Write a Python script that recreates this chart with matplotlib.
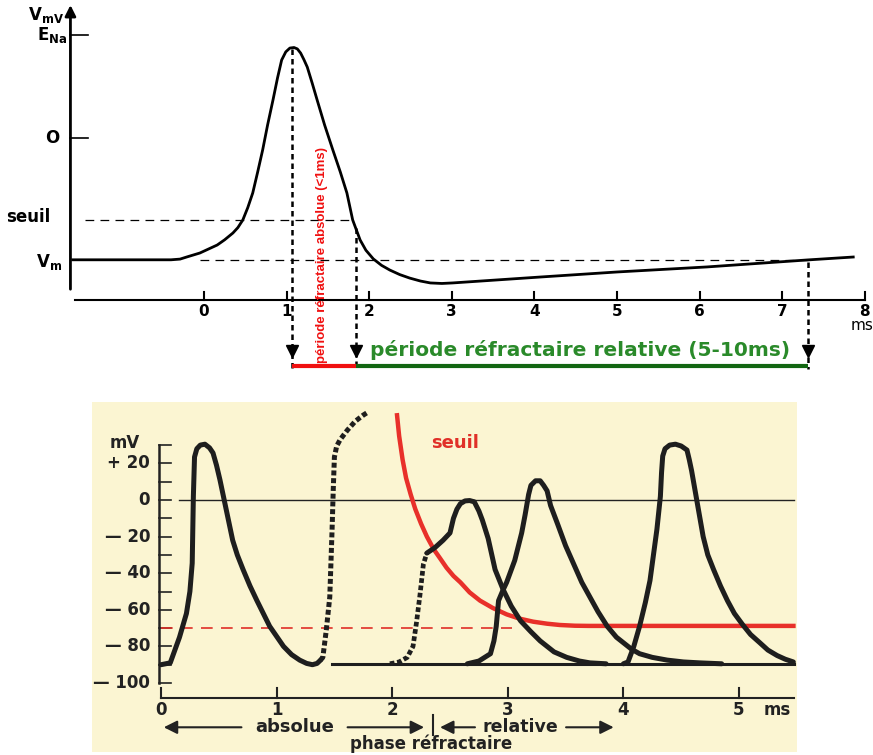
import matplotlib.pyplot as plt
from matplotlib.patches import Rectangle

# ---------- top panel data (t in ms, V in mV, schematic) ----------
top_t = [-1.59, -0.40, -0.29, -0.21, -0.05, 0.16, 0.25, 0.35, 0.41, 0.47, 0.53, 0.59,
         0.65, 0.71, 0.77, 0.835, 0.89, 0.94, 0.99, 1.04, 1.09, 1.13, 1.17, 1.21, 1.25,
         1.31, 1.37, 1.46, 1.56, 1.65, 1.73, 1.80, 1.85, 1.89, 1.96, 2.05, 2.15, 2.25,
         2.37, 2.49, 2.62, 2.74, 2.88, 3.01, 4.07, 5.0, 6.09, 7.30, 7.86]
top_v = [-70, -70, -69.6, -68.4, -66.1, -61.5, -58.5, -54.6, -51.5, -47.1, -40, -31.6,
         -19.5, -6.9, 7.5, 21.8, 34.5, 44.8, 49.5, 51.7, 52.0, 51.2, 48.8, 45.0, 40.8,
         31.5, 21.8, 7.5, -6.9, -19.5, -31.6, -47.1, -53.5, -58.6, -64.5, -69.5, -73.2, -75.9,
         -78.5, -80.5, -82.2, -83.3, -83.6, -83.3, -79.9, -77.0, -74.1, -70.1, -68.4]
top_xticks = [0, 1, 2, 3, 4, 5, 6, 7, 8]
V_ENA, V_SEUIL, V_REPOS = 59.2, -47.1, -70
t_abs_start, t_abs_end, t_rel_end = 1.065, 1.84, 7.31

# ---------- bottom panel data ----------
ap1_t = [0.0, 0.08, 0.16, 0.22, 0.25, 0.27, 0.28, 0.29, 0.31, 0.34, 0.38, 0.42, 0.45,
         0.48, 0.51, 0.57, 0.62, 0.66, 0.71, 0.77, 0.83, 0.94, 1.06, 1.13, 1.20, 1.26,
         1.31, 1.35, 1.38]
ap1_v = [-90, -89, -75, -62, -50, -34.5, 2, 23.5, 28, 30, 30.5, 28.5, 25.7,
         19, 11, -7, -22, -30, -38, -47, -55, -69, -80, -84.5, -87.5, -89.3,
         -90, -89.3, -87.5]
ap1b_t = [1.38, 1.40, 1.43, 1.46, 1.48, 1.49, 1.50, 1.52, 1.55, 1.61, 1.68, 1.75, 1.79]
ap1b_v = [-87.5, -86, -71, -53, -16, 5.5, 23.5, 29.5, 33, 38, 43, 46.4, 48]

base_t = [1.48, 5.48]
base_v = [-89.5, -89.5]

ap2a_t = [1.98, 2.06, 2.13, 2.18, 2.21, 2.24, 2.27, 2.30]
ap2a_v = [-89.5, -88.5, -86, -80, -67, -52, -35, -29]
ap2_t = [2.30, 2.37, 2.44, 2.50, 2.53, 2.56, 2.59, 2.63, 2.67, 2.71, 2.75, 2.78, 2.83,
         2.89, 2.96, 3.03, 3.11, 3.20, 3.28, 3.40, 3.51, 3.62, 3.71, 3.85]
ap2_v = [-29, -26, -22, -18, -10, -5, -2, -0.5, -0.3, -1, -6, -11, -21,
         -38, -49, -58, -66, -72, -77, -83, -86, -88, -89, -89.5]

ap3_t = [2.65, 2.75, 2.85, 2.88, 2.90, 2.92, 2.96, 2.99, 3.06, 3.12, 3.15, 3.18, 3.20,
         3.24, 3.28, 3.31, 3.34, 3.37, 3.43, 3.50, 3.57, 3.64, 3.71, 3.78, 3.86, 3.94,
         4.00, 4.07, 4.14, 4.25, 4.38, 4.52, 4.66, 4.85]
ap3_v = [-89.5, -88, -84, -77, -69, -55, -49, -45, -33, -18, -8, 3, 8,
         10.5, 10.5, 8, 5, -3, -13, -25, -35, -45, -53, -61, -69, -75,
         -78, -81.5, -84, -86, -87.5, -88.5, -89, -89.5]

ap4_t = [4.00, 4.04, 4.09, 4.14, 4.19, 4.23, 4.29, 4.32, 4.33, 4.34, 4.36, 4.40, 4.45,
         4.50, 4.55, 4.57, 4.59, 4.64, 4.69, 4.73, 4.78, 4.84, 4.90, 4.96, 5.03, 5.10,
         5.18, 5.25, 5.33, 5.40, 5.47]
ap4_v = [-89.5, -88.5, -80, -69, -56, -44, -16, 2, 15, 24, 28, 30, 30.5,
         29.5, 27.3, 22, 16, -2, -20, -30, -38, -47, -55, -62, -68, -73.5,
         -78, -82, -85, -87, -88.5]

seuil_t = [2.04, 2.06, 2.09, 2.12, 2.16, 2.20, 2.25, 2.30, 2.36, 2.41, 2.47, 2.53,
           2.59, 2.67, 2.76, 2.87, 2.99, 3.10, 3.22, 3.34, 3.45, 3.58, 3.70, 5.49]
seuil_v = [47.5, 35, 22, 12, 3, -5, -13, -20, -27, -31.5, -37, -41.5,
           -45, -50.5, -55, -59, -62.5, -64.8, -66.5, -67.6, -68.3, -68.7, -68.8, -68.8]

bot_yticks = [20, 0, -20, -40, -60, -80, -100]
bot_ylabels = ['+ 20', '0', '— 20', '— 40', '— 60', '— 80', '— 100']
bot_xticks = [0, 1, 2, 3, 4, 5]

FONT = ['DejaVu Sans']
INK = '#222222'

fig = plt.figure(figsize=(8.73, 7.55), dpi=100)

# ================= top panel =================
# pixel mapping: px = 204 + 82.6 t ; py = 138 - 1.74 V ; panel = py 0..380
ax = fig.add_axes([0, 375 / 755, 1, 380 / 755])
ax.set_xlim(-204 / 82.6, 669 / 82.6)
ax.set_ylim((138 - 380) / 1.74, 138 / 1.74)
ax.axis('off')

x_yaxis = -1.617
ax.annotate('', xy=(x_yaxis, 78), xytext=(x_yaxis, -88.5),
            arrowprops=dict(arrowstyle='-|>', lw=2, color='k', mutation_scale=16))
for v in [V_ENA, 0]:
    ax.plot([x_yaxis, -1.404], [v, v], color='k', lw=1.2)

ax.plot([-1.56, 8.0], [-93.1, -93.1], color='k', lw=1.5)
for t in top_xticks:
    ax.plot([t, t], [-93.1, -88.5], color='k', lw=1.5)
    ax.text(t, -100, str(t), ha='center', va='center', fontsize=11,
            fontweight='bold', family=FONT)
ax.text(7.97, -108, 'ms', ha='center', va='center', fontsize=11, family=FONT)

ax.text(-1.69, 70.5, r'V$_{\mathbf{mV}}$', ha='right', va='center', fontsize=12,
        fontweight='bold', family=FONT)
ax.text(-1.66, V_ENA, r'E$_{\mathbf{Na}}$', ha='right', va='center', fontsize=12,
        fontweight='bold', family=FONT)
ax.text(-1.75, 0, 'O', ha='right', va='center', fontsize=12, fontweight='bold', family=FONT)
ax.text(-1.86, V_SEUIL + 1.5, 'seuil', ha='right', va='center', fontsize=12,
        fontweight='bold', family=FONT)
ax.text(-1.72, -71, r'V$_{\mathbf{m}}$', ha='right', va='center', fontsize=12,
        fontweight='bold', family=FONT)

ax.plot([-1.44, 1.83], [V_SEUIL, V_SEUIL], color='k', lw=0.9, dashes=(7, 5))
ax.plot([-0.05, t_rel_end], [V_REPOS, V_REPOS], color='k', lw=0.9, dashes=(7, 5))

ax.plot(top_t, top_v, color='k', lw=2, solid_joinstyle='round')

y_bar = -131
for t0, v0 in [(t_abs_start, 51), (t_abs_end, -52), (t_rel_end, -71)]:
    ax.plot([t0, t0], [v0, y_bar - 1.5], color='k', lw=1.8, dashes=(2.2, 1.6))
    ax.plot(t0, -122.5, marker='v', color='k', markersize=8)

ax.plot([t_abs_start, t_abs_end], [y_bar, y_bar], color='#f01010', lw=3, solid_capstyle='butt')
ax.plot([t_abs_end, t_rel_end], [y_bar, y_bar], color='#126612', lw=3, solid_capstyle='butt')

ax.text(1.43, -67, 'période réfractaire absolue (<1ms)', rotation=90, ha='center',
        va='center', fontsize=9.5, fontweight='bold', color='#f01010',
        family=['Liberation Sans', 'DejaVu Sans'])
ax.text(4.55, -121.8, 'période réfractaire relative (5-10ms)', ha='center', va='center',
        fontsize=14.5, fontweight='bold', color='#2a8a2a', family=FONT)

# ================= bottom panel =================
# pixel mapping: px = 161 + 115.6 t ; py = 500 - 1.83 V ; panel = py 380..755
bx = fig.add_axes([0, 0, 1, 375 / 755])
bx.set_xlim(-161 / 115.6, 712 / 115.6)
bx.set_ylim((500 - 755) / 1.83, (500 - 380) / 1.83)
bx.axis('off')

bx.add_patch(Rectangle((-0.597, -137.7), 6.099, 191.3, facecolor='#fbf5d2',
                       edgecolor='none', zorder=0))

# axes
bx.plot([-0.017, -0.017], [-100, 30], color=INK, lw=1.8)
for v in range(-100, 31, 10):
    bx.plot([-0.017, 0.09], [v, v], color=INK, lw=1.2)
for v, lab in zip(bot_yticks, bot_ylabels):
    bx.text(-0.095, v, lab, ha='right', va='center', fontsize=12, fontweight='bold',
            color=INK, family=FONT)
bx.text(-0.18, 31, 'mV', ha='right', va='center', fontsize=12, fontweight='bold',
        color=INK, family=FONT)

bx.plot([0, 5.48], [-108.2, -108.2], color=INK, lw=1.5)
for t in bot_xticks:
    bx.plot([t, t], [-108.2, -102.7], color=INK, lw=1.5)
    bx.text(t, -114.5, str(t), ha='center', va='center', fontsize=12, fontweight='bold',
            color=INK, family=FONT)
bx.text(5.33, -114.5, 'ms', ha='center', va='center', fontsize=12, fontweight='bold',
        color=INK, family=FONT)

# reference lines
bx.plot([0.16, 5.48], [0, 0], color=INK, lw=1)
bx.plot([0, 3.04], [-70, -70], color='#e03028', lw=1.2, dashes=(7, 5))

# curves
bx.plot(seuil_t, seuil_v, color='#e8302a', lw=3.2, solid_capstyle='butt',
        solid_joinstyle='round')
bx.text(2.54, 31, 'seuil', ha='center', va='center', fontsize=13, fontweight='bold',
        color='#e03028', family=FONT)

lk = dict(color='#1e1e1e', lw=3.6, solid_joinstyle='round', solid_capstyle='round')
bx.plot(ap1_t, ap1_v, **lk)
bx.plot(ap1b_t, ap1b_v, color='#1e1e1e', lw=3.6, dashes=(1.0, 0.55))
bx.plot(base_t, base_v, color='#1e1e1e', lw=2.2)
bx.plot(ap2a_t, ap2a_v, color='#1e1e1e', lw=3.4, dashes=(1.0, 0.55))
bx.plot(ap2_t, ap2_v, **lk)
bx.plot(ap3_t, ap3_v, **lk)
bx.plot(ap4_t, ap4_v, **lk)

# refractory phase annotations
y_arr = -124.2
arr = dict(arrowstyle='-|>', lw=1.5, color=INK, mutation_scale=20)
bx.text(1.16, y_arr, 'absolue', ha='center', va='center', fontsize=13, fontweight='bold',
        color=INK, family=FONT)
bx.annotate('', xy=(0.0, y_arr), xytext=(0.72, y_arr), arrowprops=arr)
bx.annotate('', xy=(2.30, y_arr), xytext=(1.59, y_arr), arrowprops=arr)
bx.plot([2.35, 2.35], [-117.5, -128.4], color=INK, lw=1.5)
bx.text(3.11, y_arr, 'relative', ha='center', va='center', fontsize=12.5, fontweight='bold',
        color=INK, family=FONT)
bx.annotate('', xy=(2.39, y_arr), xytext=(2.74, y_arr), arrowprops=arr)
bx.annotate('', xy=(3.94, y_arr), xytext=(3.48, y_arr), arrowprops=arr)
bx.text(2.34, -133.0, 'phase réfractaire', ha='center', va='center', fontsize=12,
        fontweight='bold', color=INK, family=FONT)

fig.savefig('out.png', dpi=100)
